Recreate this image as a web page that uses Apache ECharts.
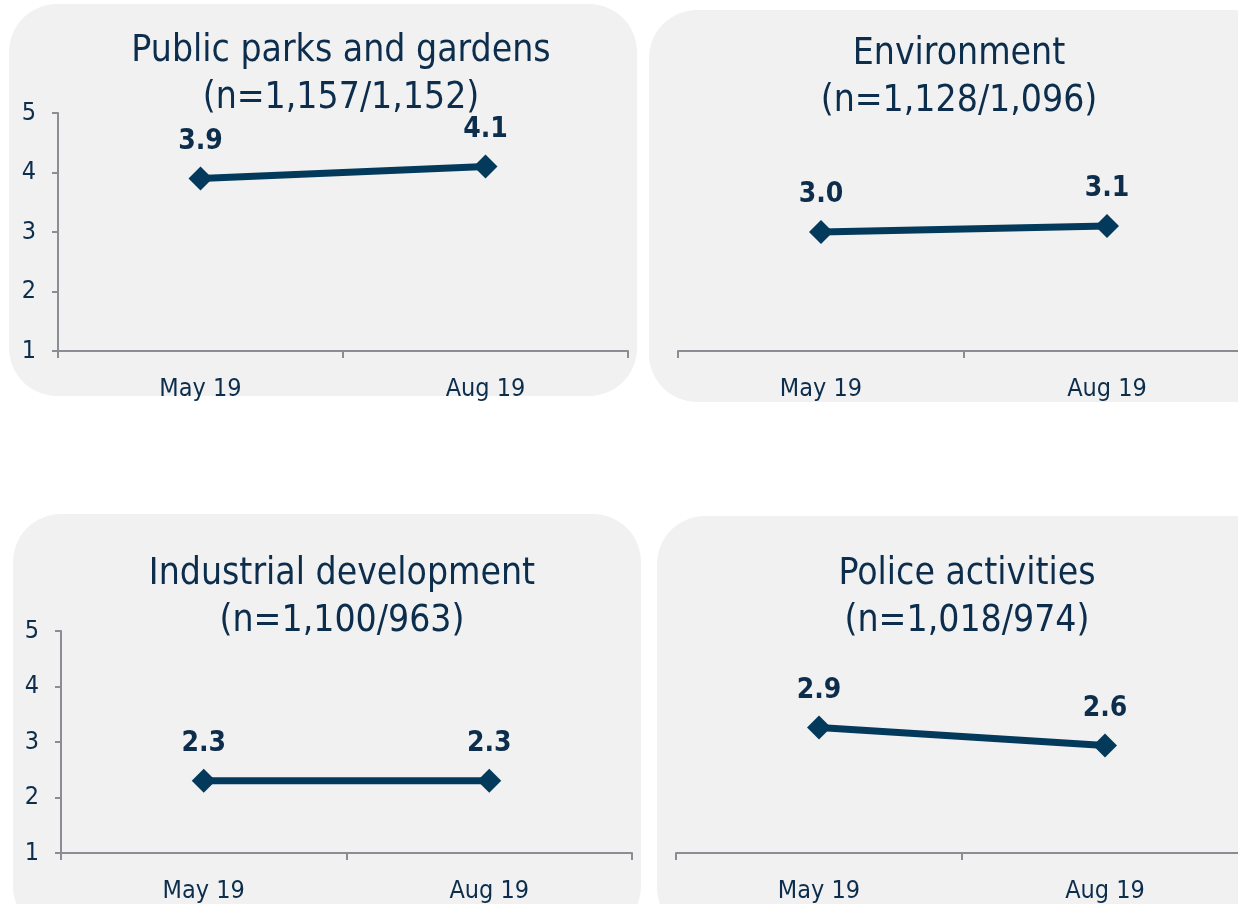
<!DOCTYPE html>
<html>
<head>
<meta charset="utf-8">
<script src="https://cdn.jsdelivr.net/npm/echarts@6/dist/echarts.min.js"></script>
<style>
html,body{margin:0;padding:0;background:#ffffff;overflow:hidden;}
#chart{width:1280px;height:904px;}
</style>
</head>
<body>
<div id="chart"></div>
<script>
const categories = ['May 19', 'Aug 19'];
const yTickLabels = ['1', '2', '3', '4', '5'];
const panelTitles = ['Public parks and gardens', 'Environment', 'Industrial development', 'Police activities'];
const panelSamples = ['(n=1,157/1,152)', '(n=1,128/1,096)', '(n=1,100/963)', '(n=1,018/974)'];
const parksValues = [3.9, 4.1];
const environmentValues = [3.0, 3.1];
const industrialValues = [2.3, 2.3];
const policeValues = [2.9, 2.6];

const seriesValues = [parksValues, environmentValues, industrialValues, policeValues];

const NAVY = '#0c2d4c';
const LINE = '#033a5b';
const AXIS = '#8a8d93';
const BG = '#f1f1f1';
const FONT = '"DejaVu Sans Condensed", "DejaVu Sans", sans-serif';

// layout (pixels)
const panels = [
  { bg: [9, 4, 628, 392], grid: [58, 113, 570, 238], titleX: 336, titleY: 23, showY: true, yMin: 1, yMax: 5 },
  { bg: [649, 10, 640, 392], grid: [678, 113, 572, 238], titleX: 954, titleY: 26, showY: false, yMin: 1, yMax: 5 },
  { bg: [13, 514, 628, 420], grid: [61, 631, 571, 223], titleX: 337, titleY: 546, showY: true, yMin: 1, yMax: 5 },
  { bg: [657, 516, 640, 420], grid: [676, 632, 572, 223], titleX: 962, titleY: 546, showY: false, yMin: 0.8, yMax: 4.5 }
];

const chart = echarts.init(document.getElementById('chart'), null, { renderer: 'canvas' });

const graphic = panels.map(p => ({
  type: 'rect',
  z: -10,
  silent: true,
  shape: { x: p.bg[0], y: p.bg[1], width: p.bg[2], height: p.bg[3], r: 48 },
  style: { fill: BG }
}));

const title = panels.map((p, i) => ({
  text: panelTitles[i] + '\n' + panelSamples[i],
  left: p.titleX,
  top: p.titleY,
  textAlign: 'center',
  textStyle: { fontFamily: FONT, fontSize: 37, fontWeight: 'normal', color: NAVY, lineHeight: 47 }
}));

const grid = panels.map(p => ({ left: p.grid[0], top: p.grid[1], width: p.grid[2], height: p.grid[3], containLabel: false }));

const xAxis = panels.map((p, i) => ({
  type: 'category',
  gridIndex: i,
  data: categories,
  boundaryGap: true,
  axisLine: { show: true, lineStyle: { color: AXIS, width: 2 } },
  axisTick: { show: true, alignWithLabel: false, length: 7, lineStyle: { color: AXIS, width: 2 } },
  axisLabel: { color: NAVY, fontFamily: FONT, fontSize: 25, margin: 26 },
  splitLine: { show: false }
}));

const yAxis = panels.map((p, i) => ({
  type: 'value',
  gridIndex: i,
  show: p.showY,
  min: p.yMin,
  max: p.yMax,
  interval: 1,
  axisLine: { show: true, lineStyle: { color: AXIS, width: 2 } },
  axisTick: { show: true, length: 6, lineStyle: { color: AXIS, width: 2 } },
  axisLabel: {
    color: NAVY, fontFamily: FONT, fontSize: 25, margin: 22,
    formatter: v => yTickLabels[Math.round(v) - 1] || ''
  },
  splitLine: { show: false }
}));

const series = seriesValues.map((vals, i) => ({
  type: 'line',
  xAxisIndex: i,
  yAxisIndex: i,
  data: vals,
  symbol: 'diamond',
  symbolSize: 24,
  lineStyle: { color: LINE, width: 7 },
  itemStyle: { color: LINE },
  label: {
    show: true,
    position: 'top',
    distance: 11,
    color: NAVY,
    fontFamily: FONT,
    fontWeight: 'bold',
    fontSize: 28,
    formatter: p => p.value.toFixed(1)
  },
  animation: false
}));

chart.setOption({
  backgroundColor: '#ffffff',
  animation: false,
  graphic,
  title,
  grid,
  xAxis,
  yAxis,
  series
});
</script>
</body>
</html>
